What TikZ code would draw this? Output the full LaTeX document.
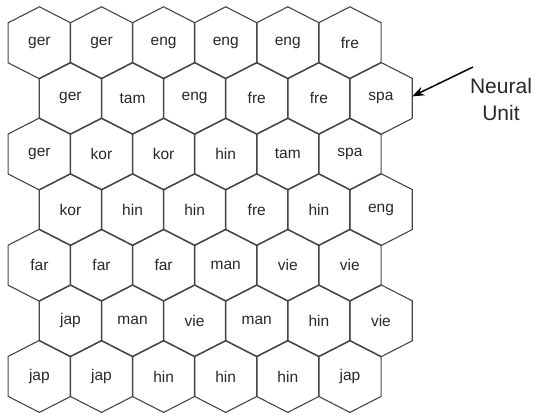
\documentclass[tikz,border=0pt]{standalone}
\usepackage{fontspec}
\setmainfont{Liberation Sans}
\usetikzlibrary{arrows.meta, calc}
\definecolor{hgray}{RGB}{70,70,70}
\definecolor{tdark}{RGB}{40,40,40}
\tikzset{
  % One unit of the map (box spans the two vertical sides)
  Cell/.style={rectangle,minimum width=62.1pt,minimum height=39.6pt,
               inner sep=0pt,font=\fontsize{15.5}{18}\selectfont,text=tdark},
  % Hexagon outline
  HexLine/.style={draw=hgray,line width=1.1pt,line join=miter},
  % Pointer arrow
  Arr/.style={-{Stealth[length=12pt,width=9pt]},line width=1.5pt,color=black},
}

\begin{document}
\begin{tikzpicture}[x=1pt,y=1pt]
  \useasboundingbox (0,0) rectangle (535,415);
  \foreach \r/\row in {0/{ger,ger,eng,eng,eng,fre},
                       1/{ger,tam,eng,fre,fre,spa},
                       2/{ger,kor,kor,hin,tam,spa},
                       3/{kor,hin,hin,fre,hin,eng},
                       4/{far,far,far,man,vie,vie},
                       5/{jap,man,vie,man,hin,vie},
                       6/{jap,jap,hin,hin,hin,jap}}{
    \foreach \t [count=\c from 0] in \row {
      \pgfmathsetmacro\cx{39.4+62.1*\c+31.05*mod(\r,2)}
      \pgfmathsetmacro\cy{372.2-55.6*\r}
      \node[Cell] (h\r-\c) at (\cx,\cy) {\t};
      \draw[HexLine] (h\r-\c.north west) -- ([yshift=16pt]h\r-\c.north)
            -- (h\r-\c.north east) -- (h\r-\c.south east)
            -- ([yshift=-16pt]h\r-\c.south) -- (h\r-\c.south west) -- cycle;
    }
  }
  \node[font=\fontsize{21}{27}\selectfont,align=center,text=tdark] (nu)
        at (501,316) {Neural\\Unit};
  \coordinate (tail) at (473,348);
  \draw[Arr] (tail) -- ([yshift=2pt]h1-5.east);
\end{tikzpicture}
\end{document}
